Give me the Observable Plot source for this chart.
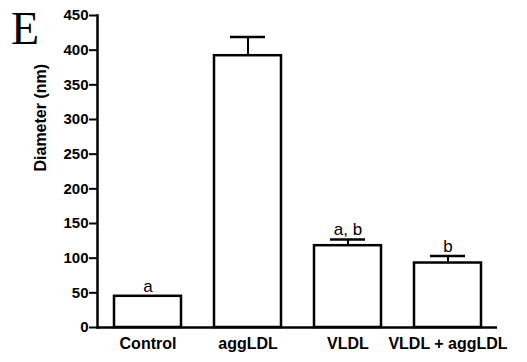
<!DOCTYPE html>
<html>
<head>
<meta charset="utf-8">
<script src="https://cdn.jsdelivr.net/npm/d3@7"></script>
<script src="https://cdn.jsdelivr.net/npm/@observablehq/plot@0.6"></script>
<style>
  html, body { margin: 0; padding: 0; background: #fff; }
  #wrap { position: relative; width: 527px; height: 362px; }
  #panel { position: absolute; left: 11px; top: 6px; font-family: "Liberation Serif", "Times New Roman", serif; font-size: 46px; line-height: 46px; color: #000; }
  svg { font-family: "Liberation Sans", Arial, sans-serif; }
</style>
</head>
<body>
<div id="wrap">
  <div id="chart"></div>
  <div id="panel">E</div>
</div>
<script>
const categories = ["Control", "aggLDL", "VLDL", "VLDL + aggLDL"];
const means = [45, 392, 118, 93];
const errors = [0, 27, 9, 10];
const letters = ["a", "", "a, b", "b"];
const yTicks = [0, 50, 100, 150, 200, 250, 300, 350, 400, 450];
const yLabel = "Diameter (nm)";

const data = categories.map((c, i) => ({
  cat: c, mean: means[i], err: errors[i], top: means[i] + errors[i], letter: letters[i]
}));
const withErr = data.filter(d => d.err > 0);
const withLetter = data.filter(d => d.letter);

const chart = Plot.plot({
  width: 527,
  height: 362,
  marginLeft: 97,
  marginRight: 30,
  marginTop: 15,
  marginBottom: 35,
  x: { domain: categories, paddingInner: 0.33, paddingOuter: 0.165 },
  y: { domain: [0, 450] },
  marks: [
    Plot.barY(data, { x: "cat", y: "mean", fill: "white", stroke: "black", strokeWidth: 2.5 }),
    Plot.ruleX(withErr, { x: "cat", y1: "mean", y2: "top", stroke: "black", strokeWidth: 2 }),
    Plot.tickY(withErr, { x: "cat", y: "top", stroke: "black", strokeWidth: 2.5, insetLeft: 16, insetRight: 16 }),
    Plot.text(withLetter, { x: "cat", y: "top", text: "letter", lineAnchor: "bottom", dy: -4, fontSize: 17, fill: "black" }),
    Plot.ruleY([0], { stroke: "black", strokeWidth: 2.5 }),
    Plot.frame({ anchor: "left", stroke: "black", strokeWidth: 2.5 }),
    Plot.axisY({ ticks: yTicks, tickSize: 8, tickPadding: 1, strokeWidth: 2, fontSize: 15, fontWeight: "bold",
      label: null, tickFormat: d => String(d) }),
    Plot.text([yLabel], { frameAnchor: "left", rotate: -90, dx: -57, fontSize: 16, fontWeight: "bold", fill: "black" }),
    Plot.axisX({ tickSize: 0, tickPadding: 10, fontSize: 16, fontWeight: "bold", label: null })
  ]
});
document.getElementById("chart").appendChild(chart);
</script>
</body>
</html>
